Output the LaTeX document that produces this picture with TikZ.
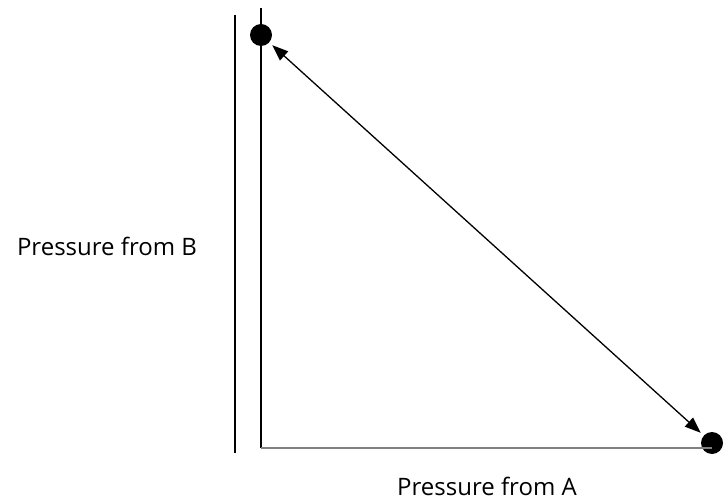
\documentclass[tikz,border=0pt]{standalone}
\usepackage{fontspec}
\setmainfont{Open Sans}
\usetikzlibrary{arrows.meta}
\begin{document}
\begin{tikzpicture}[x=1pt,y=-1pt,
    dot/.style={circle,fill,inner sep=0pt,minimum size=22pt},
    axis/.style={line width=1.6pt},
    lbl/.style={font=\fontsize{24}{29}\selectfont,inner sep=1pt}]
    \useasboundingbox (0,0) rectangle (728,502);
    \coordinate (L1) at (235,15);
    \coordinate (L2) at (235,453);
    \coordinate (T) at (261,8);
    \coordinate (O) at (261,448);
    \coordinate (R) at (712,448);
    \node[dot] (P) at (261,35) {};
    \node[dot] (Q) at (712,443) {};
    \draw[axis] (L1) to (L2);
    \draw[axis] (T) to (O);
    \draw[line width=2.6pt,gray] (O) to (R);
    \draw[{Triangle[length=16pt,width=12pt]}-{Triangle[length=16pt,width=12pt]},line width=1.3pt,shorten <=4pt,shorten >=4pt] (P) to (Q);
    \node[lbl] (B) at (107,246) {Pressure from B};
    \node[lbl] (A) at (487,486) {Pressure from A};
\end{tikzpicture}
\end{document}
